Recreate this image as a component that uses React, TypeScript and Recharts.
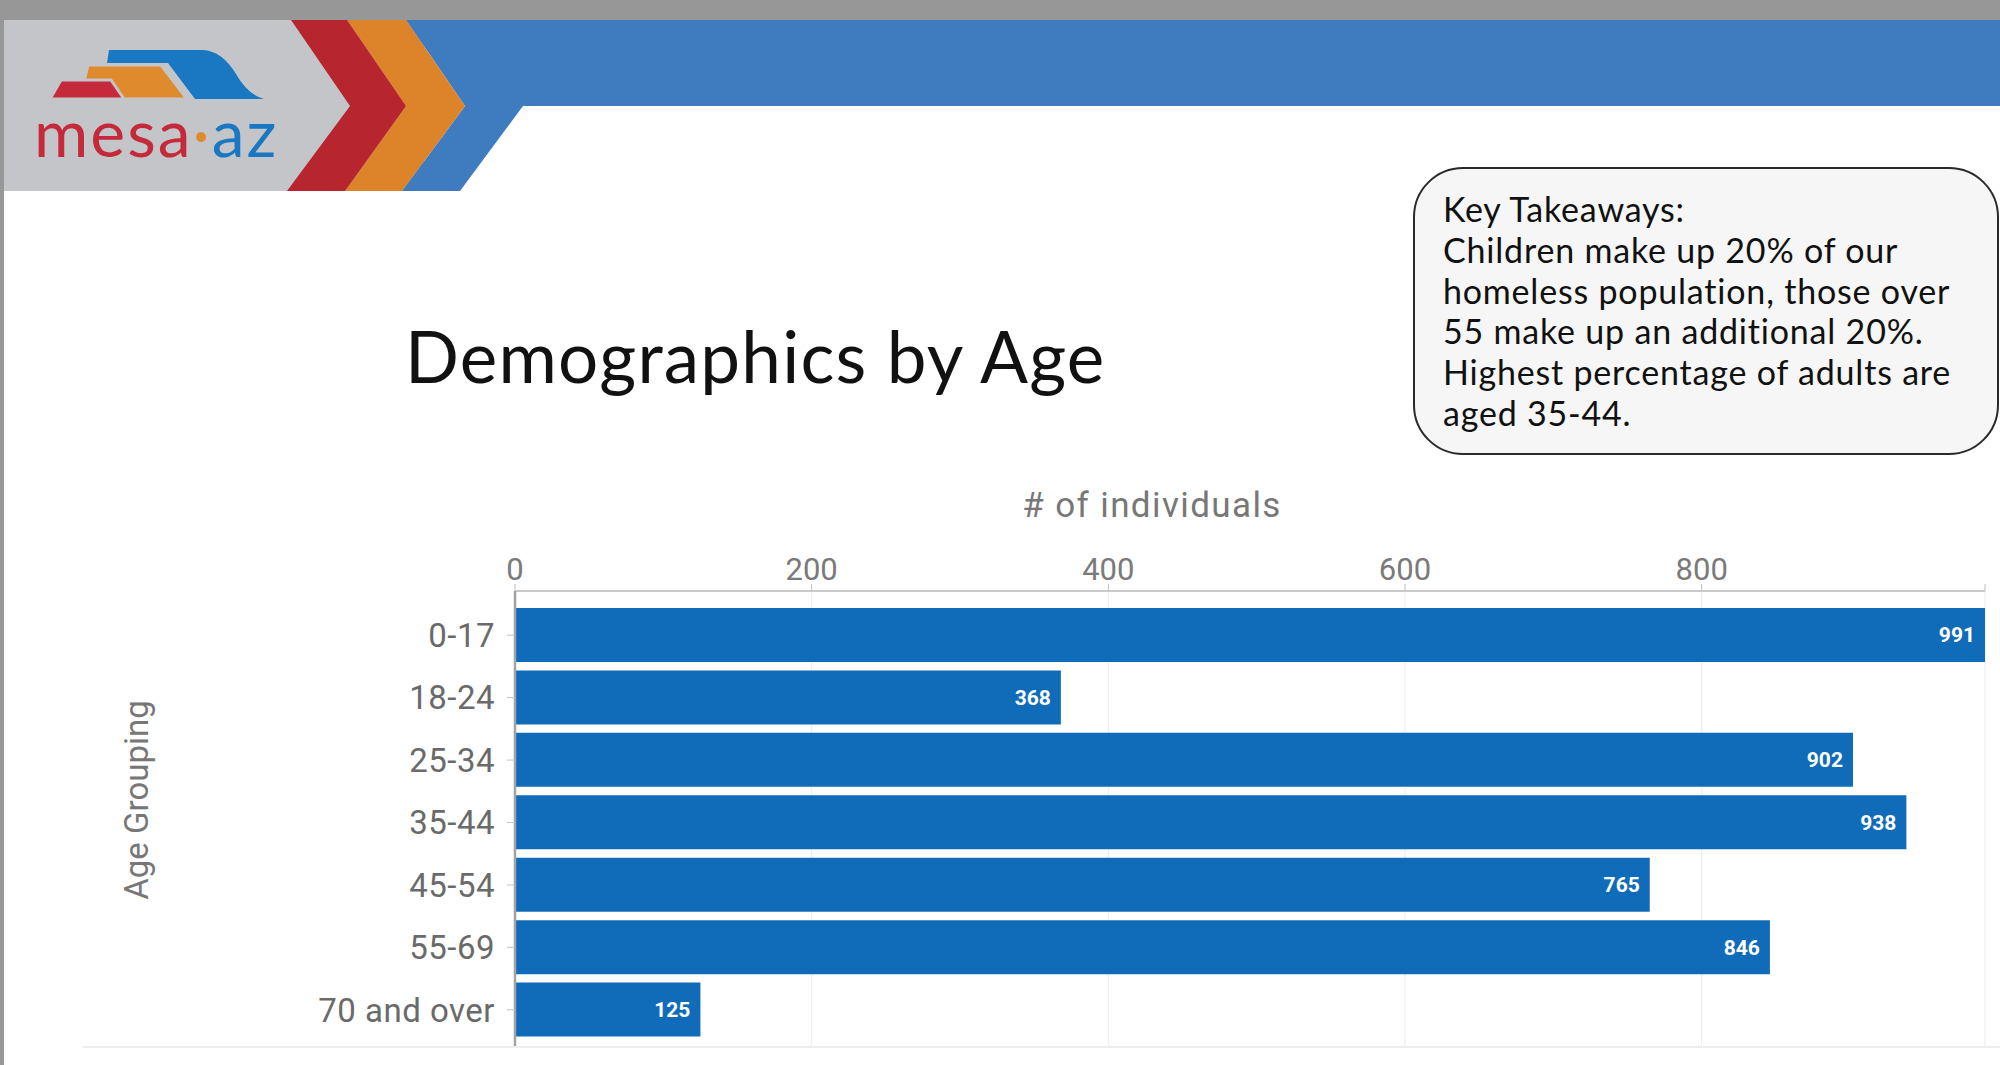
import React from "react";
import { BarChart, Bar, XAxis, YAxis, CartesianGrid, LabelList } from "recharts";

// values
const ageGroups = ["0-17", "18-24", "25-34", "35-44", "45-54", "55-69", "70 and over"];
const individuals = [991, 368, 902, 938, 765, 846, 125];
const xTicks = [0, 200, 400, 600, 800, 991];
const takeaways = [
  "Key Takeaways:",
  "Children make up 20% of our",
  "homeless population, those over",
  "55 make up an additional 20%.",
  "Highest percentage of adults are",
  "aged 35-44.",
];

const data = ageGroups.map((age, i) => ({ age, count: individuals[i] }));

const Header: React.FC = () => (
  <svg width={2000} height={192} style={{ position: "absolute", left: 0, top: 0 }}>
    <rect x={0} y={0} width={2000} height={20} fill="#979797" />
    <rect x={4} y={20} width={420} height={171} fill="#c4c5c9" />
    {/* chevrons */}
    <polygon points="406,20 2000,20 2000,106 523,106 460,191 402,191 465,106" fill="#3f7bbf" />
    <polygon points="347,20 406,20 465,106 402,191 345,191 406,106" fill="#dd842b" />
    <polygon points="291,20 347,20 406,106 345,191 287,191 350,106" fill="#b7252f" />
    {/* logo mark */}
    <path d="M109,50 L203,50 Q222,51 236,74 Q248,95 264,99 L195,99 L168,63 L107,63 Z" fill="#1a78c2" />
    <polygon points="88,65 161,65 187,99 80,99" fill="#e08a2e" stroke="#c4c5c9" strokeWidth={3} />
    <polygon points="61,80 111,80 124,99 50,99" fill="#c52a3a" stroke="#c4c5c9" strokeWidth={3} />
    <text x={34} y={157} fontFamily="Lato" fontSize={66} letterSpacing={2}>
      <tspan fill="#c52a3a">mesa</tspan>
      <tspan fill="#e08a2e">·</tspan>
      <tspan fill="#1a78c2">az</tspan>
    </text>
  </svg>
);

const App: React.FC = () => {
  return (
    <div
      style={{
        position: "absolute",
        left: 0,
        top: 0,
        width: 2000,
        height: 1065,
        background: "#ffffff",
        overflow: "hidden",
      }}
    >
      <Header />
      <div style={{ position: "absolute", left: 0, top: 0, width: 4, height: 1065, background: "#979797" }} />

      <div
        style={{
          position: "absolute",
          left: 405,
          top: 314,
          fontFamily: "Lato",
          fontSize: 71,
          letterSpacing: 1.2,
          lineHeight: "84px",
          color: "#111",
          whiteSpace: "nowrap",
        }}
      >
        Demographics by Age
      </div>

      <div
        style={{
          position: "absolute",
          left: 1413,
          top: 167,
          width: 586,
          height: 288,
          boxSizing: "border-box",
          border: "2px solid #2a2a2a",
          borderRadius: 50,
          background: "#f6f6f6",
          padding: "20px 0 0 28px",
          fontFamily: "Lato",
          fontSize: 34,
          letterSpacing: 0.8,
          lineHeight: "40.8px",
          color: "#111",
          whiteSpace: "nowrap",
        }}
      >
        {takeaways.map((line) => (
          <div key={line}>{line}</div>
        ))}
      </div>

      <div
        style={{
          position: "absolute",
          left: 1152,
          top: 505,
          transform: "translate(-50%, -50%)",
          fontFamily: "Roboto",
          fontSize: 35,
          letterSpacing: 1.4,
          color: "#777",
          whiteSpace: "nowrap",
        }}
      >
        # of individuals
      </div>
      <div
        style={{
          position: "absolute",
          left: 136,
          top: 800,
          transform: "translate(-50%, -50%) rotate(-90deg)",
          fontFamily: "Roboto",
          fontSize: 33,
          color: "#777",
          whiteSpace: "nowrap",
        }}
      >
        Age Grouping
      </div>

      <div style={{ position: "absolute", left: 83, top: 1046, width: 1917, height: 2, background: "#eeeeee" }} />

      <div style={{ position: "absolute", left: 0, top: 0 }}>
        <BarChart
          width={2000}
          height={1065}
          data={data}
          layout="vertical"
          margin={{ top: 541, right: 15, bottom: 19, left: 315 }}
          barSize={54}
        >
          <CartesianGrid horizontal={false} stroke="#ececec" />
          <XAxis
            type="number"
            orientation="top"
            domain={[0, 991]}
            ticks={xTicks}
            interval={0}
            tickFormatter={(v) => (v === 991 ? "" : String(v))}
            height={50}
            axisLine={{ stroke: "#cacaca", strokeWidth: 2 }}
            tickLine={{ stroke: "#bdbdbd" }}
            tickSize={7}
            tickMargin={4}
            tick={{ fill: "#7a7a7a", fontSize: 31, fontFamily: "Roboto" }}
          />
          <YAxis
            type="category"
            dataKey="age"
            width={200}
            interval={0}
            padding={{ top: 13, bottom: 5 }}
            axisLine={{ stroke: "#a3a3a3", strokeWidth: 2.5 }}
            tickLine={{ stroke: "#c2c2c2" }}
            tickSize={8}
            tickMargin={12}
            tick={{ fill: "#6a6a6a", fontSize: 33, fontFamily: "Roboto", letterSpacing: 0.5 }}
          />
          <Bar dataKey="count" fill="#106cb8" isAnimationActive={false}>
            <LabelList
              dataKey="count"
              position="insideRight"
              offset={10}
              fill="#ffffff"
              fontSize={21}
              fontWeight={700}
              fontFamily="Roboto"
            />
          </Bar>
        </BarChart>
      </div>
    </div>
  );
};

export default App;
